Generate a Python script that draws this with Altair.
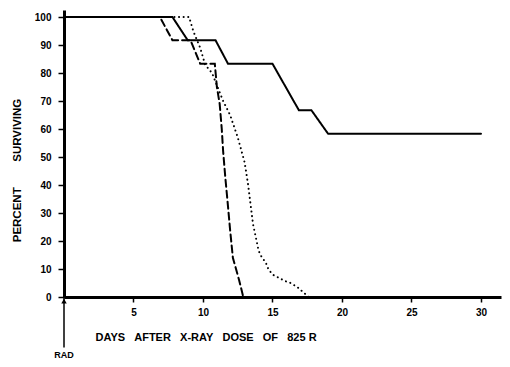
import altair as alt
import pandas as pd

# Solid curve
solid_days = [0, 7.8, 8.9, 10.9, 11.8, 15.0, 16.9, 17.8, 19.0, 30.0]
solid_pct = [100, 100, 91.7, 91.7, 83.3, 83.3, 66.7, 66.7, 58.3, 58.3]

# Dashed curve
dashed_days = [0, 6.9, 7.8, 9.1, 9.8, 10.85, 11.0, 11.2, 11.35, 11.45, 11.6, 11.75, 11.95, 12.15, 12.6, 12.9]
dashed_pct = [100, 100, 91.7, 91.7, 83.3, 83.3, 75, 69, 60, 52, 43, 35, 24, 14, 6, 0]

# Dotted curve
dotted_days = [0, 9.0, 9.3, 9.8, 10.15, 10.65, 11.45, 11.95, 12.5, 13.0, 13.25, 13.5, 13.6, 13.9,
               14.0, 14.25, 14.5, 14.7, 15.0, 15.4, 15.9, 16.3, 16.8, 17.6]
dotted_pct = [100, 100, 95, 89, 83, 80, 70, 65, 57, 48, 40, 30, 26, 19,
              16.5, 14, 12.5, 10, 8, 7, 5.7, 5, 3.5, 0]

x_ticks = [5, 10, 15, 20, 25, 30]
y_ticks = [0, 10, 20, 30, 40, 50, 60, 70, 80, 90, 100]

rad_day = [0, 0]
rad_pct = [-18, 0]

rows = []
for name, xs, ys in [("solid", solid_days, solid_pct),
                     ("dashed", dashed_days, dashed_pct),
                     ("dotted", dotted_days, dotted_pct)]:
    for i, (x, y) in enumerate(zip(xs, ys)):
        rows.append({"series": name, "day": x, "pct": y, "order": i})
df = pd.DataFrame(rows)

NB = "\u00a0"
xtitle = (NB * 3).join(["DAYS", "AFTER", "X-RAY", "DOSE", "OF", "825" + NB + "R"])
ytitle = "PERCENT" + NB * 8 + "SURVIVING"

FONT = "Liberation Sans"

xscale = alt.Scale(domain=[0, 31.44], nice=False, zero=False)
yscale = alt.Scale(domain=[0, 102.5], nice=False)

xaxis = alt.Axis(values=x_ticks, title=xtitle, grid=False, domainWidth=3,
                 domainColor="black", tickColor="black", tickWidth=1.5, tickSize=5,
                 labelPadding=5, labelFont=FONT, labelFontSize=10, labelFontWeight="bold",
                 labelColor="black", labelOverlap=False, titleFont=FONT, titleFontSize=11,
                 titleFontWeight="bold", titleColor="black", titleX=31, titleY=40,
                 titleAlign="left", titleBaseline="middle")
yaxis = alt.Axis(values=y_ticks, title=ytitle, grid=False, domainWidth=3,
                 domainColor="black", tickColor="black", tickWidth=1.5, tickSize=6,
                 labelPadding=7, labelFont=FONT, labelFontSize=10, labelFontWeight="bold",
                 labelColor="black", labelOverlap=False, titleFont=FONT, titleFontSize=11.5,
                 titleFontWeight="bold", titleColor="black", titleX=-47, titleY=160,
                 titleAlign="center", titleBaseline="middle", titleAngle=270)


def X():
    return alt.X("day:Q", scale=xscale, axis=xaxis, title=xtitle)


def Y():
    return alt.Y("pct:Q", scale=yscale, axis=yaxis, title=ytitle)


lines = alt.Chart(df).mark_line(color="black", strokeWidth=2, strokeCap="round").encode(
    x=X(), y=Y(),
    detail="series:N",
    order="order:Q",
    strokeDash=alt.StrokeDash("series:N",
                              scale=alt.Scale(domain=["solid", "dashed", "dotted"],
                                              range=[[1, 0], [7, 4], [0.1, 4.5]]),
                              legend=None),
)

rad_df = pd.DataFrame({"day": rad_day, "pct": rad_pct})
rad_line = alt.Chart(rad_df).mark_line(color="black", strokeWidth=1.5).encode(x=X(), y=Y())

arrow_df = pd.DataFrame({"day": [0], "pct": [-1.5]})
arrow = alt.Chart(arrow_df).mark_point(shape="triangle-up", filled=True, color="black",
                                       size=30, opacity=1).encode(x=X(), y=Y())

rad_text_df = pd.DataFrame({"day": [0], "pct": [-20.7], "label": ["RAD"]})
rad_text = alt.Chart(rad_text_df).mark_text(font=FONT, fontSize=9, fontWeight="bold",
                                            color="black", align="center",
                                            baseline="middle").encode(
    x=X(), y=Y(), text="label:N")

chart = alt.layer(lines, rad_line, arrow, rad_text).properties(
    width=437, height=287,
    autosize=alt.AutoSizeParams(type="none"),
    padding={"left": 56, "top": 2, "right": 1, "bottom": 62},
    background="white",
).configure_view(stroke=None)

chart.save("out.html", embed_options={"renderer": "svg", "actions": False})
